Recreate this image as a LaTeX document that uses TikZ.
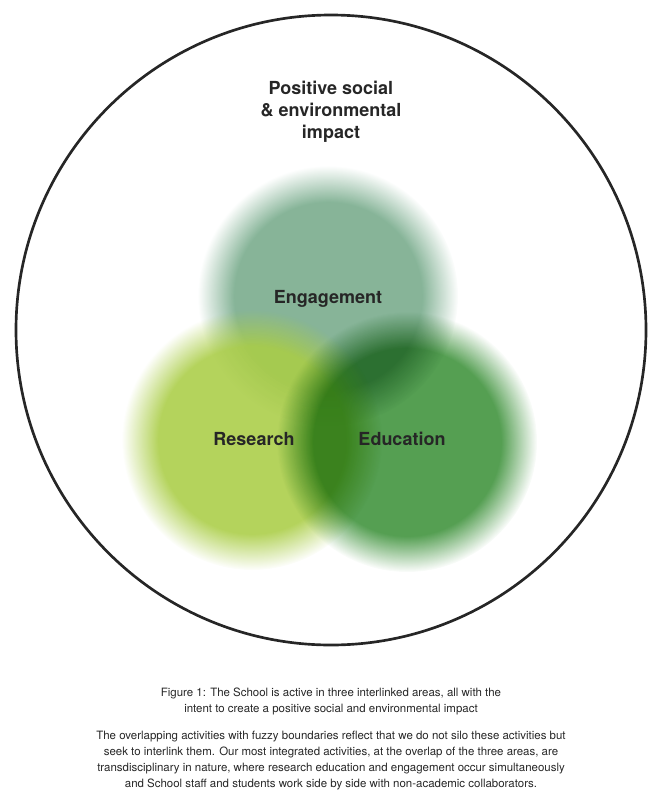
\documentclass[tikz,border=0pt]{standalone}
\usepackage{fontspec}
\setmainfont{TeX Gyre Heros}
\usetikzlibrary{fadings}
\pgfdeclareradialshading{fuzzysh}{\pgfpointorigin}{color(0bp)=(pgftransparent!0); color(18bp)=(pgftransparent!0); color(25bp)=(pgftransparent!100); color(50bp)=(pgftransparent!100)}
\pgfdeclarefading{fuzzyblob}{\pgfuseshading{fuzzysh}}
\definecolor{eng}{RGB}{118,170,138}
\definecolor{res}{RGB}{170,205,70}
\definecolor{edu}{RGB}{55,142,52}
\tikzset{
  blob/.style={fill=#1, fill opacity=0.88, path fading=fuzzyblob, fit fading=true},
  lbl/.style={font=\bfseries\fontsize{13.5}{16}\selectfont, text=black!85},
  captext/.style={font=\fontsize{8.6}{12}\selectfont, align=center, text=black!85}
}
\begin{document}
\begin{tikzpicture}[x=0.75pt,y=-0.75pt]
\useasboundingbox (0,0) rectangle (662,800);
\draw[line width=2pt, black!85] (331,330) circle[radius=315];
\path[blob=eng] (328,296) circle[radius=130];
\path[blob=res] (252,440) circle[radius=130];
\begin{scope}[blend mode=multiply]
\path[blob=edu, fill opacity=0.85] (407,442) circle[radius=130];
\end{scope}
\node[font=\bfseries\fontsize{13.5}{16.5}\selectfont, align=center, text=black!85] (title) at (331,112) {Positive social\\\& environmental\\impact};
\node[lbl] (e) at (328,299) {Engagement};
\node[lbl] (r) at (254,439) {Research};
\node[lbl] (d) at (402,439) {Education};
\node[captext] (c1) at (331,701) {Figure 1: The School is active in three interlinked areas, all with the\\intent to create a positive social and environmental impact};
\node[captext] (c2) at (331,761) {The overlapping activities with fuzzy boundaries reflect that we do not silo these activities but\\seek to interlink them. Our most integrated activities, at the overlap of the three areas, are\\transdisciplinary in nature, where research education and engagement occur simultaneously\\and School staff and students work side by side with non-academic collaborators.};
\end{tikzpicture}
\end{document}
